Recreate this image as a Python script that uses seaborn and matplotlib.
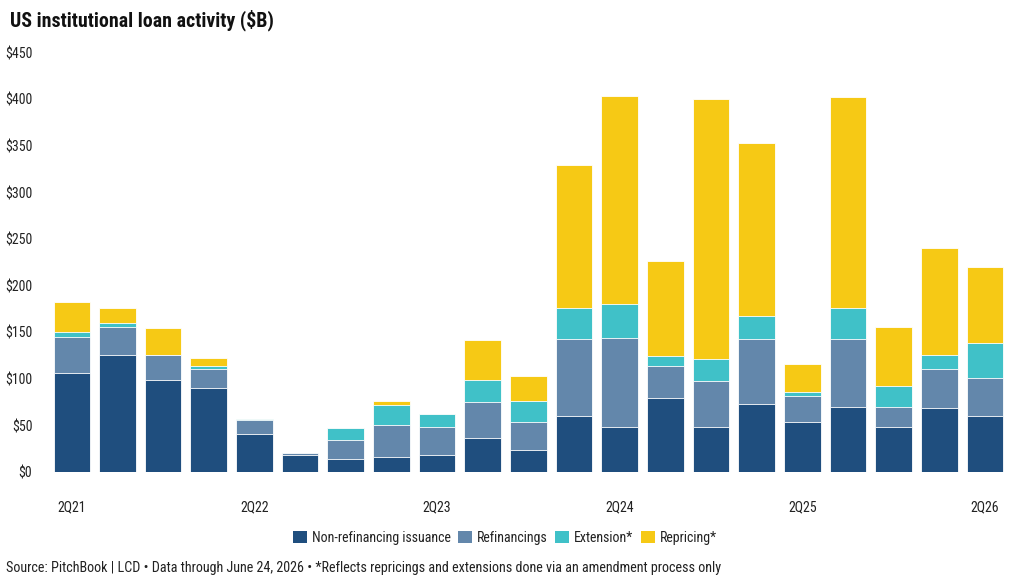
import matplotlib
matplotlib.use("Agg")
import matplotlib.pyplot as plt
from matplotlib import font_manager
from matplotlib.patches import Patch
import seaborn as sns
import pandas as pd
import numpy as np

quarters = ["2Q21", "3Q21", "4Q21", "1Q22", "2Q22", "3Q22", "4Q22", "1Q23", "2Q23", "3Q23",
            "4Q23", "1Q24", "2Q24", "3Q24", "4Q24", "1Q25", "2Q25", "3Q25", "4Q25", "1Q26", "2Q26"]
non_refi = [106, 126, 98.5, 90.5, 41.5, 18.5, 14, 16, 18.5, 36.5,
            24, 60, 49, 79.5, 49, 73, 53.5, 70.5, 48.5, 68.5, 60]
refinancings = [39.5, 30, 27.5, 20.5, 14.5, 2, 21, 35, 30.5, 38.5,
                30.5, 82.5, 95.5, 34.5, 48.5, 70.5, 28, 72, 22, 42, 41]
extension = [5.5, 4, 0.3, 3.5, 1, 0.5, 12, 21, 14, 24.5,
             21.5, 33.5, 36, 10.5, 24, 24.5, 5, 34, 22.5, 15.5, 38]
repricing = [31.5, 16, 28, 8, 0, 0, 0, 5, 0, 42.5,
             27, 154, 223.5, 102.5, 278.5, 185.5, 29.5, 226.5, 62.5, 114.5, 81.5]
series_names = ["Non-refinancing issuance", "Refinancings", "Extension*", "Repricing*"]
colors = ["#1F4E7E", "#6387AB", "#40C1C8", "#F6C915"]
shown_ticks = ["2Q21", "2Q22", "2Q23", "2Q24", "2Q25", "2Q26"]
y_ticks = [0, 50, 100, 150, 200, 250, 300, 350, 400, 450]

sns.set_theme(style="white")
avail = {f.name for f in font_manager.fontManager.ttflist}
fam = "Roboto"
for cand in ["Roboto Condensed", "Liberation Sans Narrow", "Roboto"]:
    if cand in avail:
        fam = cand
        break
plt.rcParams["font.family"] = [fam, "DejaVu Sans"]

df = pd.DataFrame({"quarter": quarters, "s0": non_refi, "s1": refinancings,
                   "s2": extension, "s3": repricing})
fig = plt.figure(figsize=(10.2, 5.86), dpi=100)
ax = fig.add_axes([0.048, 0.194, 0.94, 0.716])

cols = ["s0", "s1", "s2", "s3"]
cum = df[cols].cumsum(axis=1)
for i in range(3, -1, -1):
    d = pd.DataFrame({"quarter": quarters, "v": cum[cols[i]].values})
    sns.barplot(data=d, x="quarter", y="v", color=colors[i], saturation=1,
                width=0.8, edgecolor="white", linewidth=0.6, ax=ax, order=quarters)

ax.set_ylim(0, 450)
ax.set_xlim(-0.5, len(quarters) - 0.5)
ax.set_yticks(y_ticks)
ax.set_yticklabels([f"${v}" for v in y_ticks], fontsize=10, color="#222222")
ax.set_xticks([quarters.index(q) for q in shown_ticks])
ax.set_xticklabels(shown_ticks, fontsize=10, color="#222222")
ax.tick_params(axis="both", length=0)
ax.tick_params(axis="x", pad=20)
ax.tick_params(axis="y", pad=12)
ax.set_xlabel("")
ax.set_ylabel("")
for s in ax.spines.values():
    s.set_visible(False)
ax.grid(False)

fig.text(0.010, 0.965, "US institutional loan activity ($B)", fontsize=14.3,
         fontweight="bold", color="#111111", va="center", ha="left")

handles = [Patch(facecolor=c, edgecolor="none") for c in colors]
fig.legend(handles, series_names, loc="center", bbox_to_anchor=(0.495, 0.082), ncol=4,
           frameon=False, fontsize=10, handlelength=1.0, handleheight=1.0,
           handletextpad=0.35, columnspacing=0.55, labelcolor="#222222")

fig.text(0.006, 0.031, "Source: PitchBook | LCD \u2022 Data through June 24, 2026 \u2022 *Reflects repricings and extensions done via an amendment process only",
         fontsize=10.2, color="#222222", va="center", ha="left")

fig.savefig("out.png", dpi=100, facecolor="white")
